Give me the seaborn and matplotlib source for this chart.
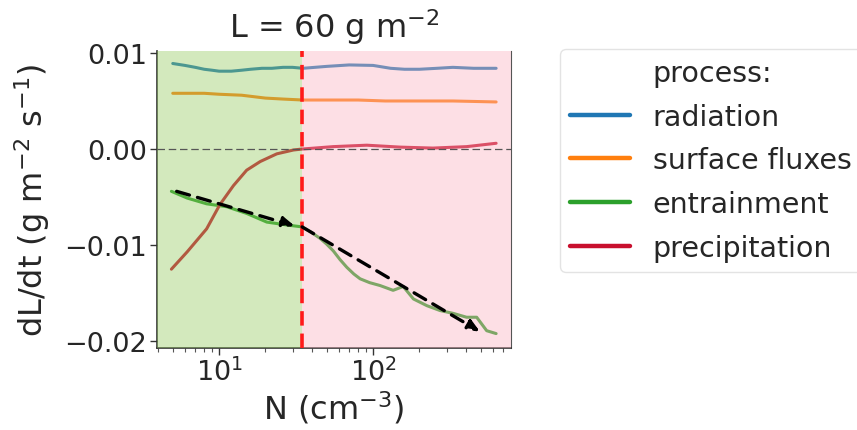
import numpy as np
import pandas as pd
import matplotlib
matplotlib.use("Agg")
import matplotlib.pyplot as plt
from matplotlib.lines import Line2D
import seaborn as sns

# ---- data ----
processes = ["radiation", "surface fluxes", "entrainment", "precipitation"]
colors = ["#1f77b4", "#ff7f0e", "#2ca02c", "#c8102e"]

n_rad = [5, 6, 7, 8, 9, 10, 11, 12, 14, 16, 19, 22, 26, 30, 35, 50, 70, 100, 130, 160, 200, 260, 330, 450, 630]
v_rad = [0.0089, 0.0087, 0.0085, 0.0083, 0.0082, 0.0081, 0.0081, 0.0081, 0.0082, 0.0083, 0.0084,
         0.0084, 0.0085, 0.0085, 0.0084, 0.0086, 0.00875, 0.0087, 0.0084, 0.0083, 0.0083, 0.0084,
         0.0085, 0.0084, 0.0084]

n_sfc = [5, 8, 10, 14, 20, 26, 35, 50, 80, 120, 200, 330, 630]
v_sfc = [0.0058, 0.0058, 0.0057, 0.0056, 0.0053, 0.0052, 0.0051, 0.0051, 0.0051, 0.0050, 0.0050,
         0.0050, 0.0049]

n_ent = [4.9, 6.2, 8.3, 11.2, 15.1, 20.4, 27.5, 34.6, 40, 45.3, 50, 55.2, 61, 67.5, 75, 82.4, 95,
         111, 135, 157, 183, 224, 272, 332, 405, 471, 547, 630]
v_ent = [-0.0044, -0.0051, -0.0057, -0.0060, -0.0067, -0.0076, -0.0079, -0.0081, -0.0087, -0.0093,
         -0.0099, -0.0106, -0.0115, -0.0123, -0.0130, -0.0135, -0.0139, -0.0142, -0.0147, -0.0143,
         -0.0156, -0.0163, -0.0168, -0.0171, -0.0175, -0.0175, -0.0189, -0.0192]

n_pre = [4.9, 6.2, 8.3, 10.1, 12.4, 15.1, 18.5, 23.7, 30.4, 34.6, 55, 91, 150, 245, 405, 630]
v_pre = [-0.0125, -0.0107, -0.0083, -0.0058, -0.0038, -0.0022, -0.0013, -0.0005, -0.0001, 0.0,
         0.00025, 0.0004, 0.0002, 0.0001, 0.00025, 0.0006]

n_threshold = 34.6
arrow1 = [(5.3, -0.0044), (31.0, -0.0080)]
arrow2 = [(34.6, -0.0081), (495, -0.0190)]

yticks = [-0.02, -0.01, 0.0, 0.01]
ytick_labels = ["\u22120.02", "\u22120.01", "0.00", "0.01"]

frames = []
for name, n, v in [("radiation", n_rad, v_rad), ("surface fluxes", n_sfc, v_sfc),
                   ("entrainment", n_ent, v_ent), ("precipitation", n_pre, v_pre)]:
    frames.append(pd.DataFrame({"N": n, "dLdt": v, "process": name}))
df = pd.concat(frames, ignore_index=True)

# ---- figure ----
sns.set_style("white")
plt.rcParams["font.family"] = ["DejaVu Sans"]

fig = plt.figure(figsize=(8.57, 4.31), dpi=100)
ax = fig.add_axes([157 / 857, 1 - 349 / 431, (511 - 157) / 857, (349 - 52) / 431])

sns.lineplot(data=df, x="N", y="dLdt", hue="process", hue_order=processes,
             palette=dict(zip(processes, colors)), estimator=None, sort=True,
             linewidth=2.2, ax=ax, legend=False)

ax.set_xscale("log")
ax.set_xlim(3.95, 787)
ax.set_ylim(-0.0207, 0.0102)

# shaded regimes drawn over the lines
ax.axvspan(3.95, n_threshold, color=(145 / 255, 200 / 255, 92 / 255), alpha=0.4, lw=0, zorder=3)
ax.axvspan(n_threshold, 787, color=(250 / 255, 177 / 255, 190 / 255), alpha=0.4, lw=0, zorder=3)

ax.axhline(0, color="#555555", lw=0.9, ls=(0, (6, 3)), zorder=4)
ax.axvline(n_threshold, color="#ff1a1a", lw=2.6, ls=(0, (4, 2.2)), zorder=6)

for (x0, y0), (x1, y1) in [arrow1, arrow2]:
    ax.annotate("", xy=(x1, y1), xytext=(x0, y0), zorder=7,
                arrowprops=dict(arrowstyle="-|>,head_length=0.7,head_width=0.3",
                                color="black", lw=2.4, ls=(0, (4, 2.5)),
                                shrinkA=0, shrinkB=0))

ax.set_yticks(yticks)
ax.set_yticklabels(ytick_labels)
ax.tick_params(axis="both", which="major", labelsize=19.5, length=5, width=1, direction="out",
               left=True, bottom=True, color="#333333", pad=2)
ax.tick_params(axis="x", which="minor", length=3, width=0.8, bottom=True, color="#555555")

for s in ["left", "bottom"]:
    ax.spines[s].set_color("#333333")
    ax.spines[s].set_linewidth(1.2)
ax.spines["right"].set_color("#555555")
ax.spines["right"].set_linewidth(0.8)
ax.spines["top"].set_visible(False)

ax.set_title("L = 60 g m$^{-2}$", fontsize=23, pad=10)
ax.set_xlabel("N (cm$^{-3}$)", fontsize=23, labelpad=2)
ax.set_ylabel("dL/dt (g m$^{-2}$ s$^{-1}$)", fontsize=23, labelpad=9)

handles = [Line2D([], [], color="none", label="process:")]
handles += [Line2D([], [], color=c, lw=3.2, label=p) for p, c in zip(processes, colors)]
leg = fig.legend(handles=handles, loc="upper left", bbox_to_anchor=(560 / 857, 1 - 50 / 431),
                 borderaxespad=0, fontsize=20.5, frameon=True, handlelength=2.1,
                 handletextpad=0.8, labelspacing=0.55, borderpad=0.35, fancybox=True)
leg.get_frame().set_edgecolor("#dddddd")
leg.get_frame().set_linewidth(1.0)

fig.savefig("out.png", dpi=100)
